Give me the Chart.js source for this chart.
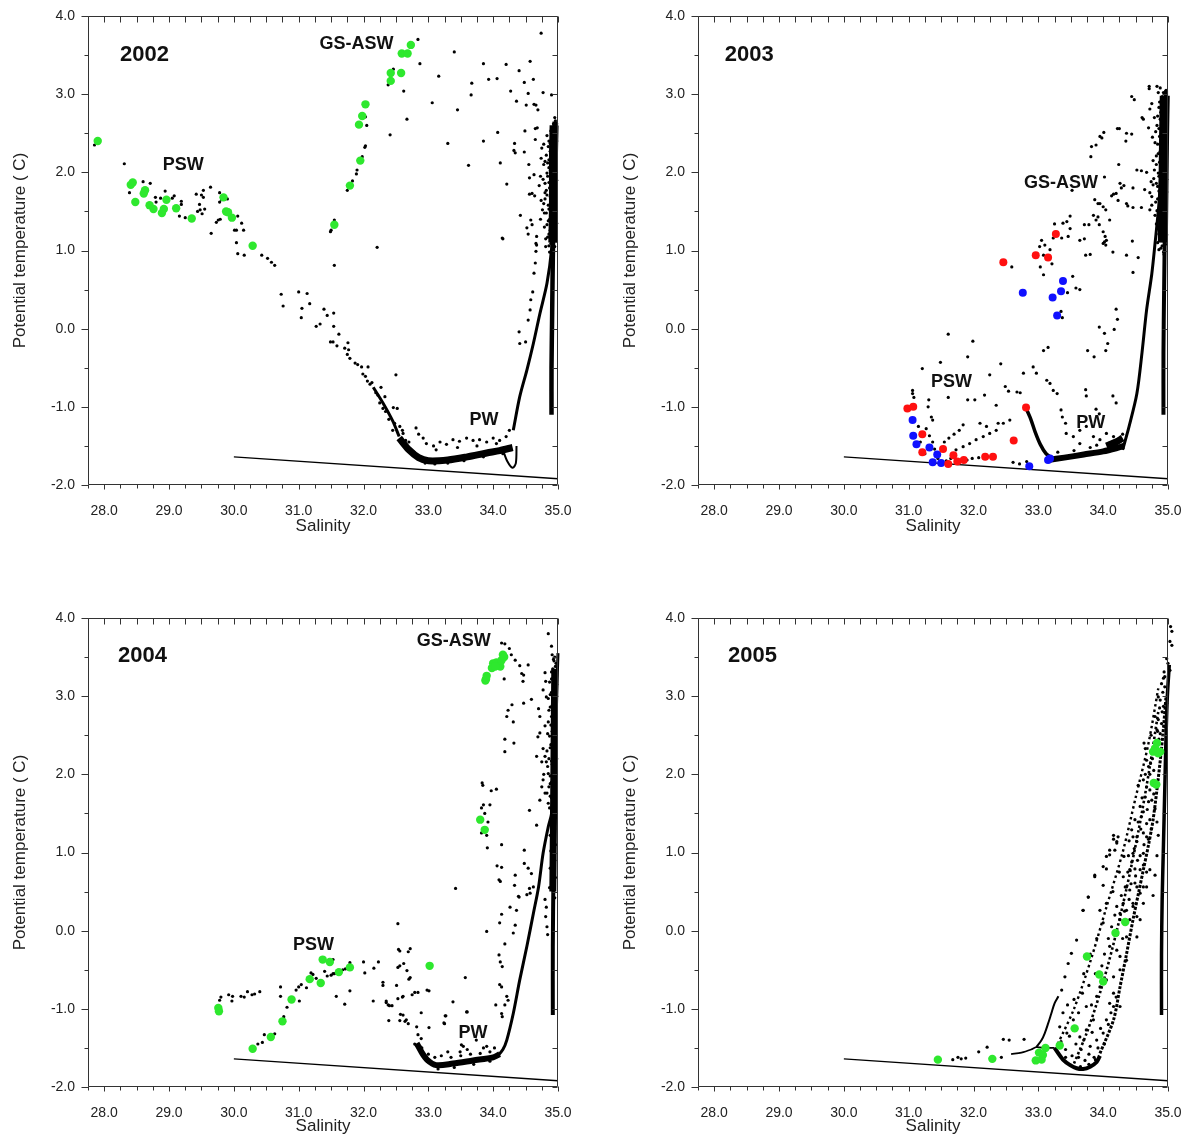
<!DOCTYPE html>
<html lang="en">
<head>
<meta charset="UTF-8">
<title>Potential temperature vs salinity, 2002-2005</title>
<script src="https://cdn.jsdelivr.net/npm/chart.js@4.4.1/dist/chart.umd.min.js"></script>
<style>
  body { margin: 0; background: #fff; }
  #wrap { position: relative; width: 1189px; height: 1140px; }
  #wrap canvas { position: absolute; }
</style>
</head>
<body>
<div id="wrap">
  <canvas id="c2002" width="594" height="540" style="left:0;top:0"></canvas>
  <canvas id="c2003" width="579" height="540" style="left:610px;top:0"></canvas>
  <canvas id="c2004" width="594" height="538" style="left:0;top:602px"></canvas>
  <canvas id="c2005" width="579" height="538" style="left:610px;top:602px"></canvas>
</div>
<script>
// axes
const salMin = 27.75, salMax = 35.0, salStep = 0.25;
const tempMin = -2.0, tempMax = 4.0, tempStep = 0.5;
// freezing line
const freezeSal = [30.0, 35.0];
const freezeTemp = [-1.64, -1.92];

// ---------- 2002 ----------
const green2002 = [[27.90,2.40],[28.44,1.87],[28.41,1.84],[28.48,1.62],[28.61,1.73],[28.63,1.77],[28.70,1.58],[28.76,1.53],
  [28.89,1.48],[28.92,1.53],[28.96,1.65],[29.11,1.54],[29.35,1.41],[29.84,1.68],[29.88,1.50],[29.91,1.49],[29.97,1.42],
  [30.29,1.06],[31.55,1.33],[31.79,1.83],[31.95,2.15],[31.93,2.61],[31.98,2.72],[32.03,2.87],[32.42,3.17],[32.42,3.27],
  [32.58,3.27],[32.59,3.52],[32.68,3.52],[32.73,3.63]];
const dots2002 = [[27.85,2.35],[28.31,2.11],[28.39,1.74],[28.60,1.88],[28.71,1.86],[28.79,1.68],[28.87,1.67],[28.94,1.76],
  [28.80,1.62],[29.05,1.67],[29.08,1.70],[29.19,1.63],[29.19,1.59],[29.16,1.44],[29.25,1.42],[29.42,1.72],[29.50,1.71],
  [29.53,1.68],[29.53,1.77],[29.64,1.81],[29.47,1.59],[29.48,1.52],[29.44,1.50],[29.51,1.47],[29.55,1.53],[29.78,1.74],
  [29.78,1.62],[29.81,1.65],[29.73,1.36],[29.76,1.39],[29.79,1.40],[29.65,1.22],[29.90,1.66],[30.06,1.44],[30.01,1.26],
  [30.04,1.26],[30.15,1.26],[30.04,1.10],[30.12,1.35],[30.06,0.96],[30.16,0.94],[30.43,0.94],[30.52,0.90],[30.58,0.85],
  [30.63,0.81],[30.73,0.44],[30.76,0.29],[31.00,0.47],[31.05,0.26],[31.04,0.14],[31.13,0.45],[31.17,0.32],[31.27,0.03],
  [31.33,0.06],[31.39,0.25],[31.44,0.17],[31.54,0.20],[31.54,0.03],[31.62,-0.07],[31.49,-0.17],[31.53,-0.17],[31.59,-0.22],
  [31.71,-0.25],[31.77,-0.27],[31.76,-0.18],[31.75,-0.33],[31.79,-0.38],[31.87,-0.44],[31.91,-0.46],[31.97,-0.49],
  [32.07,-0.49],[31.99,-0.58],[32.03,-0.61],[32.06,-0.67],[32.10,-0.71],[32.13,-0.69],[32.19,-0.82],[32.22,-0.85],
  [32.27,-0.75],[32.33,-0.87],[32.25,-0.95],[32.30,-1.02],[32.34,-1.06],[32.46,-1.01],[32.52,-1.02],[32.50,-0.59],
  [32.81,-1.27],[32.39,-1.16],[32.48,-1.21],[32.56,-1.25],[32.61,-1.34],[31.55,0.81],[31.49,1.24],[32.21,1.04],[34.14,1.16],
  [34.40,-0.04],[34.41,-0.19],[34.50,-0.17],
  [32.84,3.70],[33.40,3.54],[32.87,3.39],[32.62,3.04],[32.67,2.68],[33.16,3.23],[33.06,2.89],[33.45,2.80],[33.67,3.14],
  [33.66,2.99],[33.85,3.39],[33.93,3.19],[34.06,3.20],[34.20,3.38],[34.27,3.04],[34.40,3.30],[34.57,3.42],[34.48,3.15],
  [34.62,3.19],[34.36,2.91],[34.54,3.01],[34.51,2.86],[34.63,2.87],[34.66,2.86],[34.69,2.80],[34.77,3.02],[34.90,2.99],
  [34.74,3.78],[34.07,2.51],[33.85,2.40],[33.30,2.37],[33.62,2.09],[34.11,2.12],[34.21,1.85],[34.33,2.37],[34.32,2.28],
  [34.34,2.25],[34.48,2.26],[34.49,2.53],[34.55,2.10],[34.65,2.56],[34.68,2.57],[34.65,2.42],[34.56,1.93],[34.63,1.97],
  [34.56,1.72],[34.60,1.73],[34.64,1.70],[34.42,1.45],[34.52,1.29],[34.58,1.39],[34.60,1.33],[34.67,1.18],[34.66,1.09],
  [34.15,1.15],[31.55,1.39],[31.50,1.26],[31.90,2.03],[31.89,1.98],[31.83,1.89],[31.75,1.77],[31.98,2.20],[32.02,2.32],
  [32.03,2.34],[32.05,2.60],[32.03,2.71],[32.41,2.48],[32.38,3.12],[32.46,3.32],
  [34.54,1.21],[34.67,1.07],[34.66,0.99],[34.65,0.84],[34.63,0.71],[34.61,0.47],[34.58,0.37],[34.57,0.24],[34.54,0.11],
  [32.97,-1.47],[33.18,-1.45],[33.38,-1.42],[33.59,-1.40],[33.79,-1.42],[34.00,-1.40],[33.08,-1.50],[33.28,-1.48],
  [33.48,-1.44],[33.69,-1.43],[33.90,-1.45],[34.10,-1.43],[34.20,-1.38],[34.25,-1.30],[33.12,-1.55],[33.45,-1.52],
  [33.75,-1.50],[34.05,-1.47],[32.85,-1.35],[32.92,-1.40],[32.70,-1.45],[32.78,-1.58],[32.95,-1.72],[33.10,-1.73],
  [33.30,-1.72],[33.55,-1.69],[33.85,-1.64],[34.15,-1.60],[32.60,-1.30],[32.65,-1.43],[32.45,-1.30],
  [34.95,2.70],[34.93,2.62],[34.97,2.55],[34.90,2.50],[34.96,2.45],[34.86,2.40],[34.93,2.36],[34.97,2.30],[34.88,2.27],
  [34.82,2.22],[34.95,2.18],[34.91,2.14],[34.78,2.10],[34.86,2.06],[34.97,2.03],[34.92,1.98],[34.84,1.95],[34.89,1.90],
  [34.80,1.86],[34.95,1.84],[34.87,1.80],[34.91,1.75],[34.83,1.71],[34.96,1.68],[34.89,1.64],[34.78,1.60],[34.93,1.57],
  [34.86,1.53],[34.82,1.48],[34.97,1.46],[34.90,1.42],[34.85,1.38],[34.94,1.34],[34.79,1.30],[34.88,1.26],[34.92,1.21],
  [34.84,1.17],[34.96,1.13],[34.89,1.09],[34.81,1.05],[34.93,1.02],[34.87,0.98],[34.75,2.31],[34.73,1.95],[34.76,1.52],
  [34.94,2.58],[34.98,2.62],[34.91,2.44],[34.84,2.12],[34.80,1.74],
  [34.96,2.66],[34.92,2.58],[34.89,2.53],[34.95,2.49],[34.92,2.41],[34.88,2.37],[34.85,2.33],[34.95,2.25],[34.90,2.21],
  [34.86,2.16],[34.80,2.14],[34.93,2.09],[34.88,2.02],[34.83,1.99],[34.96,1.95],[34.90,1.93],[34.77,1.91],[34.86,1.87],
  [34.93,1.79],[34.82,1.77],[34.97,1.72],[34.88,1.69],[34.80,1.66],[34.94,1.62],[34.85,1.58],[34.91,1.51],[34.79,1.48],
  [34.95,1.44],[34.87,1.40],[34.92,1.36],[34.83,1.33],[34.89,1.30],[34.95,1.24],[34.86,1.21],[34.81,1.15],[34.91,1.12],
  [34.86,1.06],[34.95,1.05],[34.90,0.99],[34.83,2.47],[34.78,2.36],[34.74,2.18],[34.71,1.83],[34.74,1.64],[34.73,1.40],
  [34.98,2.40],[34.98,1.90],[34.98,1.35]];
const bands2002 = [
  [[34.90,-1.10],[34.90,-0.50],[34.91,0.20],[34.92,0.90],[34.93,1.50],[34.94,2.20],[34.95,2.65]],
  [[34.31,-1.30],[34.41,-0.87],[34.52,-0.53],[34.62,-0.19],[34.72,0.19],[34.83,0.58],[34.90,1.01],[34.94,1.60],[34.96,2.20]],
  [[32.55,-1.40],[32.70,-1.55],[32.85,-1.65],[33.00,-1.69],[33.30,-1.68],[33.60,-1.64],[33.90,-1.59],[34.10,-1.56],[34.30,-1.52]],
  [[32.15,-0.75],[32.30,-0.95],[32.45,-1.18],[32.55,-1.38]],
  [[34.15,-1.55],[34.22,-1.70],[34.30,-1.78],[34.35,-1.72],[34.36,-1.50]],
  [[34.92,1.10],[34.93,1.60],[34.93,2.20],[34.94,2.60]]
];
const bandWidths2002 = [4.5, 3, 7, 3, 2, 9];

// ---------- 2003 ----------
const red2003 = [[33.27,1.21],[32.46,0.85],[32.96,0.94],[33.15,0.91],[30.98,-1.02],[31.07,-1.00],[31.21,-1.35],[31.21,-1.58],
  [31.53,-1.54],[31.61,-1.73],[31.69,-1.62],[31.75,-1.70],[31.85,-1.68],[32.18,-1.64],[32.30,-1.64],[32.62,-1.43],[32.81,-1.01]];
const blue2003 = [[33.38,0.61],[33.35,0.48],[33.22,0.40],[32.76,0.46],[33.29,0.17],[31.06,-1.17],[31.07,-1.37],[31.12,-1.48],
  [31.32,-1.52],[31.44,-1.61],[31.37,-1.71],[31.50,-1.72],[32.86,-1.76],[33.15,-1.68],[33.18,-1.66]];
const dots2003 = [[31.61,-0.07],[31.99,-0.16],[31.49,-0.43],[31.21,-0.51],[31.91,-0.36],[32.42,-0.45],[31.06,-0.83],[31.08,-0.88],
  [31.31,-0.91],[31.61,-0.88],[31.91,-0.91],[32.02,-0.91],[32.17,-0.85],[32.25,-0.59],[32.49,-0.74],[32.54,-0.80],[32.67,-0.81],
  [32.72,-0.82],[32.35,-0.98],[32.38,-1.21],[32.10,-1.21],[32.20,-1.25],[31.84,-1.23],[31.35,-1.13],[31.37,-1.17],[31.30,-1.00],
  [31.06,-0.79],[32.77,-0.57],[32.92,-0.49],[32.97,-0.57],[33.08,-0.28],[33.15,-0.24],[33.13,-0.66],[33.18,-0.70],[33.23,-0.79],
  [33.29,-0.83],[33.35,-1.04],[33.37,-1.13],[33.42,-1.21],[33.73,-0.78],[33.74,-0.86],[33.89,-1.03],[33.94,-1.09],[34.15,-0.86],
  [34.20,-0.95],[33.76,-0.28],[33.86,-0.36],[33.94,0.02],[34.02,-0.06],[34.07,-0.19],[34.04,-0.28],[34.20,0.25],[34.22,0.12],
  [34.17,-0.01],[33.94,1.33],[34.00,1.24],[34.02,1.11],[34.04,1.07],[33.73,0.94],[33.80,0.95],[34.15,0.98],[34.46,0.72],
  [34.54,0.91],[33.23,1.16],[33.36,1.16],[33.46,1.18],[33.49,1.28],[33.08,0.94],[33.13,0.89],[33.21,0.83],[33.03,0.79],
  [33.08,0.69],[32.59,0.79],[33.35,0.22],[33.37,0.14],[33.45,0.46],[33.58,0.52],[33.64,0.50],[33.53,0.67],[34.00,1.56],
  [34.04,1.52],[33.89,1.39],[34.20,1.73],[34.23,1.64],[34.64,1.78],[34.72,1.74],[34.36,1.60],[34.38,1.57],[34.46,1.55],
  [34.59,1.55],
  [31.27,-1.28],[31.32,-1.37],[31.37,-1.45],[31.40,-1.54],[31.73,-1.55],[31.84,-1.51],[31.94,-1.47],[32.04,-1.42],[32.15,-1.38],
  [32.25,-1.34],[32.35,-1.30],[32.46,-1.21],[32.56,-1.17],[32.61,-1.71],[32.71,-1.73],[32.82,-1.70],
  [31.45,-1.66],[31.58,-1.69],[31.65,-1.66],[31.80,-1.70],[31.90,-1.68],[31.98,-1.66],[32.08,-1.65],[31.15,-1.25],[31.18,-1.45],
  [31.25,-1.60],[31.55,-1.45],[31.62,-1.40],[31.70,-1.35],[31.78,-1.30],
  [33.43,-1.34],[33.54,-1.38],[33.64,-1.30],[33.74,-1.25],[33.85,-1.38],[33.95,-1.42],[34.05,-1.34],[34.16,-1.38],[34.26,-1.42],
  [33.64,-1.47],[33.90,-1.49],[33.30,-1.58],[33.55,-1.56],[33.80,-1.52],[34.10,-1.46],[34.30,-1.35],
  [34.71,3.10],[34.71,3.07],[34.83,3.10],[34.88,3.08],[34.44,2.97],[34.48,2.93],[34.60,2.70],[34.62,2.68],[34.72,2.81],
  [34.70,2.57],[34.25,2.56],[34.22,2.56],[34.36,2.50],[34.35,2.40],[34.44,2.49],[34.01,2.51],[33.95,2.46],[33.98,2.44],
  [33.89,2.35],[33.82,2.33],[33.81,2.20],[34.24,2.10],[34.52,2.03],[34.59,2.02],[34.67,2.00],[34.74,1.88],[34.77,1.84],
  [34.75,1.69],[34.72,1.52],[34.26,1.86],[34.32,1.83],[34.28,1.80],[34.46,1.80],[34.02,1.94],[34.16,1.72],[34.13,1.70],
  [33.87,1.65],[33.92,1.60],[33.95,1.60],[33.85,1.45],[33.92,1.43],[34.10,1.39],[33.49,1.44],[33.38,1.35],[33.44,1.37],
  [33.25,1.34],[33.71,1.33],[33.78,1.33],[34.03,1.18],[34.05,1.13],[34.00,1.09],[33.64,1.13],[33.71,1.15],[34.45,1.12],
  [34.36,0.94],[33.05,1.13],[33.10,1.07],[33.02,1.05],[33.18,1.01],[33.52,1.77],
  [34.97,3.05],[34.93,3.02],[34.98,2.96],[34.90,2.92],[34.95,2.86],[34.86,2.83],[34.97,2.78],[34.92,2.74],[34.88,2.68],
  [34.96,2.63],[34.83,2.60],[34.91,2.55],[34.98,2.50],[34.87,2.46],[34.94,2.42],[34.80,2.38],[34.90,2.33],[34.96,2.28],
  [34.85,2.24],[34.92,2.19],[34.97,2.14],[34.82,2.10],[34.89,2.05],[34.94,2.00],[34.86,1.95],[34.98,1.91],[34.91,1.86],
  [34.84,1.82],[34.95,1.77],[34.88,1.72],[34.93,1.67],[34.81,1.62],[34.97,1.58],[34.90,1.53],[34.86,1.48],[34.94,1.43],
  [34.89,1.38],[34.96,1.33],[34.84,1.28],[34.92,1.23],[34.88,1.18],[34.95,1.12],[34.91,1.06],[34.86,1.01],[34.94,0.95],
  [34.79,2.70],[34.77,2.15],[34.80,1.45],[34.98,2.72],[34.93,2.36],
  [34.95,3.00],[34.91,2.97],[34.87,2.90],[34.93,2.81],[34.89,2.77],[34.84,2.72],[34.95,2.67],[34.90,2.60],[34.86,2.56],
  [34.81,2.52],[34.96,2.47],[34.89,2.41],[34.84,2.36],[34.93,2.30],[34.88,2.27],[34.82,2.21],[34.95,2.17],[34.87,2.13],
  [34.92,2.08],[34.79,2.03],[34.85,1.99],[34.96,1.96],[34.90,1.90],[34.82,1.86],[34.92,1.80],[34.86,1.76],[34.95,1.71],
  [34.84,1.66],[34.90,1.61],[34.96,1.52],[34.83,1.51],[34.92,1.47],[34.87,1.41],[34.97,1.37],[34.82,1.34],[34.90,1.30],
  [34.94,1.26],[34.86,1.21],[34.91,1.15],[34.96,1.08],[34.84,1.10],[34.89,1.03],[34.93,0.98],[34.76,2.45],[34.75,2.88],
  [34.78,1.92],[34.75,1.58],[34.85,3.02],[34.98,2.85],[34.98,2.30],[34.98,1.75],[34.98,1.20]];
const bands2003 = [
  [[34.93,-1.10],[34.93,-0.30],[34.94,0.50],[34.95,1.20],[34.96,1.90],[34.97,2.50],[34.97,3.05]],
  [[34.30,-1.55],[34.40,-1.25],[34.52,-0.83],[34.60,-0.30],[34.67,0.24],[34.75,0.70],[34.80,1.09],[34.86,1.60],[34.90,2.16]],
  [[32.80,-1.00],[32.88,-1.15],[32.95,-1.32],[33.03,-1.48],[33.12,-1.60],[33.22,-1.66]],
  [[33.15,-1.68],[33.40,-1.65],[33.70,-1.61],[34.00,-1.57],[34.20,-1.53],[34.32,-1.50]],
  [[34.05,-1.50],[34.20,-1.45],[34.30,-1.40]],
  [[34.92,1.10],[34.93,1.80],[34.94,2.50],[34.95,2.98]]
];
const bandWidths2003 = [4, 3, 3.5, 6, 7, 10];

// ---------- 2004 ----------
const green2004 = [[29.76,-0.99],[29.77,-1.03],[30.29,-1.51],[30.57,-1.36],[30.75,-1.16],[30.89,-0.88],[31.17,-0.62],[31.34,-0.67],
  [31.37,-0.37],[31.48,-0.40],[31.62,-0.53],[31.79,-0.47],[33.02,-0.45],[34.15,3.53],[34.00,3.42],[34.05,3.43],[34.11,3.38],
  [33.98,3.36],[33.90,3.26],[33.88,3.20],[34.13,3.46],[34.17,3.50],[34.03,3.38],[33.89,3.22],[33.80,1.42],[33.87,1.29]];
const dots2004 = [[29.78,-0.89],[29.80,-0.85],[29.92,-0.82],[29.98,-0.84],[29.97,-0.90],[30.11,-0.84],[30.16,-0.85],[30.21,-0.78],
  [30.28,-0.82],[30.32,-0.81],[30.40,-0.78],[30.37,-1.45],[30.44,-1.43],[30.47,-1.33],[30.63,-1.32],[30.72,-0.72],[30.72,-0.84],
  [30.82,-0.98],[30.77,-1.10],[30.96,-0.76],[31.00,-0.72],[31.04,-0.69],[31.01,-0.90],[31.12,-0.73],[31.19,-0.54],[31.22,-0.56],
  [31.27,-0.61],[31.40,-0.52],[31.44,-0.58],[31.50,-0.57],[31.53,-0.55],[31.55,-0.55],[31.53,-0.37],[31.68,-0.50],[31.72,-0.49],
  [31.79,-0.41],[31.58,-0.84],[31.71,-0.94],[31.79,-0.77],[32.00,-0.40],[32.02,-0.54],[32.16,-0.48],[32.23,-0.40],[32.15,-0.90],
  [32.30,-0.70],[32.35,-0.90],[32.38,-0.95],[32.44,-0.96],[32.39,-1.15],[32.51,-0.70],[32.53,0.09],[32.54,-0.24],[32.56,-0.26],
  [32.62,-0.42],[32.53,-0.47],[32.56,-0.45],[32.67,-0.51],[32.70,-0.62],[32.72,-0.60],[32.53,-0.87],[32.61,-0.84],[32.57,-1.07],
  [32.61,-1.08],[32.56,-1.15],[32.66,-1.14],[32.69,-1.19],[32.75,-0.82],[32.79,-0.79],[32.84,-0.79],[32.89,-1.05],[32.98,-0.76],
  [33.01,-0.77],[33.01,-1.24],[32.82,-1.23],[32.84,-1.33],[32.89,-1.38],[32.79,-1.45],[32.87,-1.48],[33.25,-1.19],[33.26,-1.09],
  [33.42,0.54],[33.57,-0.60],[33.59,-1.04],[33.38,-0.91],[33.51,-1.46],[33.90,-0.01],[34.04,-0.95],[32.69,-0.27],[32.72,-0.23],
  [32.30,-0.66],[32.60,-0.85],[32.35,-0.92],[32.40,-0.96],[32.64,-1.16],[33.60,-1.04],[33.27,-1.09],[33.24,-1.18],[33.49,-1.55],
  [33.74,-1.40],[33.90,-1.48],[33.54,-1.48],
  [34.85,3.80],[34.90,3.64],[34.91,3.53],[34.13,3.68],[34.18,3.67],[34.25,3.61],[34.28,3.53],[34.34,3.46],[34.41,3.39],
  [34.44,3.29],[34.47,3.27],[34.46,3.19],[34.54,3.40],[34.17,3.22],[34.77,3.08],[34.81,3.19],[34.82,2.99],[34.59,2.96],
  [34.47,2.91],[34.29,2.89],[34.23,2.82],[34.21,2.74],[34.31,2.67],[34.70,2.84],[34.72,2.74],[34.18,2.45],[34.32,2.40],
  [34.18,2.29],[34.69,2.48],[34.72,2.53],[34.77,2.33],[34.80,2.23],[34.67,2.23],[34.75,2.16],[34.82,2.16],[34.77,1.93],
  [34.75,1.84],[34.80,1.76],[34.72,1.67],[33.83,1.89],[33.84,1.86],[33.97,1.79],[34.05,1.81],[33.85,1.61],[33.82,1.57],
  [33.95,1.61],[33.87,1.50],[33.92,1.39],[33.82,1.25],[33.90,1.22],[33.91,1.06],[34.13,1.10],[34.48,1.03],[34.56,1.54],
  [34.67,1.35],[34.06,0.83],[34.13,0.81],[34.09,0.65],[34.11,0.63],[34.34,0.71],[34.33,0.58],[34.26,0.30],[34.36,0.26],
  [34.13,0.21],[34.48,0.86],[34.54,0.80],[34.59,0.73],[34.62,0.56],[34.39,0.44],[34.40,0.43],[34.52,0.46],[34.56,0.54],
  [34.57,0.48],[34.10,0.10],[34.34,0.07],[34.31,-0.03],[34.18,-0.17],[34.09,-0.31],[34.11,-0.40],[34.14,-0.46],[34.10,-0.69],
  [34.13,-0.72],[34.21,-0.84],[34.23,-0.89],[34.18,-0.95],[34.13,-1.06],[34.14,-1.10],
  [34.80,0.40],[34.82,0.30],[34.81,0.18],[34.83,0.05],[34.84,-0.05],
  [32.90,-1.50],[33.00,-1.58],[33.10,-1.62],[33.20,-1.60],[33.35,-1.62],[33.50,-1.60],[33.65,-1.58],[33.80,-1.57],[33.95,-1.55],
  [33.30,-1.55],[33.60,-1.52],[33.85,-1.50],[34.02,-1.50],[33.15,-1.77],[33.40,-1.75],[33.70,-1.71],[33.95,-1.67],
  [34.95,3.50],[34.97,3.42],[34.92,3.35],[34.96,3.28],[34.90,3.22],[34.98,3.15],[34.93,3.08],[34.88,3.02],[34.96,2.95],
  [34.91,2.88],[34.86,2.82],[34.97,2.76],[34.93,2.70],[34.89,2.63],[34.95,2.57],[34.84,2.52],[34.92,2.45],[34.97,2.40],
  [34.88,2.34],[34.94,2.27],[34.86,2.20],[34.91,2.13],[34.96,2.07],[34.85,2.01],[34.92,1.95],[34.88,1.88],[34.95,1.82],
  [34.83,1.76],[34.90,1.70],[34.96,1.63],[34.87,1.57],[34.93,1.50],[34.98,3.00],[34.98,2.20],[34.90,1.90],[34.94,3.45],
  [34.93,3.47],[34.96,3.38],[34.90,3.31],[34.94,3.25],[34.87,3.18],[34.95,3.12],[34.90,3.05],[34.85,2.97],[34.93,2.92],
  [34.88,2.86],[34.95,2.80],[34.90,2.74],[34.85,2.67],[34.96,2.61],[34.91,2.55],[34.87,2.49],[34.94,2.43],[34.89,2.38],
  [34.83,2.30],[34.97,2.25],[34.90,2.17],[34.84,2.10],[34.93,2.04],[34.88,1.98],[34.96,1.91],[34.86,1.84],[34.92,1.78],
  [34.88,1.72],[34.95,1.67],[34.85,1.63],[34.91,1.56],[34.97,1.45],[34.90,1.38],[34.95,1.30],[34.88,1.22],[34.96,1.10],
  [34.89,1.02],[34.95,0.90],[34.88,0.80],[34.96,0.68],[34.87,0.55],[34.95,0.42],[34.80,2.62],[34.80,3.30],[34.78,2.00]];
const bands2004 = [
  [[34.92,-1.08],[34.92,-0.20],[34.93,0.70],[34.94,1.50],[34.95,2.30],[34.96,3.00],[34.97,3.30]],
  [[34.05,-1.62],[34.15,-1.52],[34.21,-1.40],[34.31,-1.06],[34.41,-0.63],[34.52,-0.20],[34.62,0.22],[34.70,0.56],
   [34.77,0.99],[34.85,1.33],[34.90,1.50],[34.94,2.10],[34.97,2.70],[34.99,3.30],[35.00,3.55]],
  [[32.82,-1.44],[32.90,-1.56],[32.98,-1.65],[33.12,-1.72],[33.38,-1.70],[33.69,-1.66],[34.00,-1.62],[34.10,-1.58]],
  [[34.92,0.50],[34.93,1.40],[34.94,2.40],[34.95,3.35]]
];
const bandWidths2004 = [4, 3, 6, 7];

// ---------- 2005 ----------
const green2005 = [[31.45,-1.65],[32.29,-1.64],[32.96,-1.66],[33.05,-1.65],[33.01,-1.56],[33.11,-1.50],[33.07,-1.59],[33.33,-1.47],
  [33.56,-1.25],[33.75,-0.33],[33.94,-0.56],[34.00,-0.65],[34.19,-0.03],[34.34,0.11],[34.83,2.40],[34.77,2.29],[34.85,2.27],
  [34.80,2.33],[34.88,2.29],[34.78,1.89],[34.82,1.87]];
const dots2005 = [[31.68,-1.65],[31.76,-1.62],[31.81,-1.64],[31.88,-1.63],[32.08,-1.55],[32.21,-1.49],[32.46,-1.39],[32.55,-1.40],
  [32.78,-1.39],[32.43,-1.62],[33.36,-0.76],[33.41,-0.59],[33.46,-0.42],[33.51,-0.29],[33.59,-0.12],[33.69,0.26],[33.77,0.43],
  [33.87,0.71],[34.00,0.82],[34.05,0.95],[34.10,1.03],[34.16,1.22],[34.23,1.20],[34.21,1.12],[33.95,0.26],[34.10,-0.20],
  [34.21,-0.25],[34.26,-0.33],[33.33,-1.23],[33.44,-1.31],[33.54,-1.14],[33.64,-1.36],[33.74,-1.27],[33.80,-1.48],[33.90,-1.40],
  [34.00,-1.31],[34.05,-1.14],[34.16,-0.97],[33.74,-0.97],[33.90,-0.84],[33.95,-0.72],[34.05,-0.63],[34.16,-0.59],[34.26,-0.50],
  [34.36,-0.38],[34.16,-0.80],[34.10,-0.93],[34.26,-0.97],[33.85,-1.14],[34.36,-0.08],[34.41,0.14],[34.46,0.35],[34.52,0.56],
  [34.57,0.78],[34.62,0.99],[34.67,1.20],[34.26,0.14],[34.31,0.35],[34.36,0.56],[34.41,0.78],[34.46,0.99],[34.52,1.20],
  [34.67,0.56],[34.72,0.78],[34.62,0.35],[34.57,0.14],[34.52,-0.08],
  [35.04,3.89],[35.06,3.83],[35.03,3.70],[35.06,3.65],[34.98,3.48],[35.00,3.42],[35.03,3.33],[34.94,3.31],[34.93,3.23],
  [34.90,3.16],[34.95,3.12],[34.85,2.99],[34.88,2.95],[34.93,2.87],[34.98,2.91],[34.80,2.74],[34.85,2.70],[34.90,2.65],
  [34.83,2.57],[34.88,2.52],[34.95,2.61],[34.63,2.40],[34.65,2.33],[34.67,2.18],[34.70,2.10],[34.73,2.14],[34.54,1.86],
  [34.62,1.93],[34.67,1.84],[34.72,1.80],[34.65,1.71],[34.70,1.65],[34.75,1.67],[34.57,1.59],[34.62,1.52],[34.49,1.42],
  [34.54,1.39],[34.59,1.46],[34.67,1.37],[34.72,1.42],[34.44,1.29],[34.46,1.20],[34.52,1.14],[34.62,1.25],[34.70,1.17],
  [34.16,1.17],[34.21,1.14],[34.18,1.03],[34.10,0.97],[34.39,0.96],[34.44,0.88],[34.49,0.79],[34.57,0.96],[34.62,0.84],
  [34.67,0.75],[34.05,0.79],[33.87,0.69],[34.00,0.58],[34.31,0.69],[34.34,0.56],[34.41,0.52],[34.49,0.61],[34.57,0.48],
  [34.62,0.56],[33.77,0.43],[33.69,0.26],[34.21,0.31],[34.26,0.22],[34.36,0.26],[34.46,0.31],[34.52,0.18],[34.80,1.56],
  [34.83,1.39],[34.85,1.22],[34.83,0.96],[34.80,0.71],[34.77,0.45],[34.78,2.05],[34.86,2.45],[34.74,2.50],[34.91,2.80],
  [33.35,-1.42],[33.42,-1.52],[33.48,-1.35],[33.52,-1.60],[33.58,-1.45],[33.62,-1.62],[33.66,-1.52],[33.70,-1.40],[33.72,-1.66],
  [33.78,-1.58],[33.83,-1.30],[33.86,-1.62],[33.92,-1.50],[33.96,-1.25],[34.02,-1.45],[34.08,-1.20],[34.12,-1.05],[34.20,-0.85],
  [33.38,-1.05],[33.45,-0.95],[33.55,-0.88],[33.62,-1.05],[33.68,-0.80],[33.78,-0.70],[33.82,-0.95],[33.88,-0.55],[33.98,-0.45],
  [34.02,-0.30],[34.08,-0.10],[34.13,0.05],[34.18,0.20],[34.22,-0.05],[34.28,0.45],[34.33,0.25],[34.38,0.75],[34.43,0.60],
  [34.48,1.05],[34.53,0.90],[34.58,1.30],[34.63,1.10],[34.68,1.55],[34.74,1.30],[34.78,1.75],[34.72,2.00],[34.76,2.20],
  [34.81,2.30],[34.84,2.55],[34.87,2.85],[34.92,3.05],[34.95,3.25],[33.50,-1.72],[33.65,-1.74],[33.78,-1.71],[33.88,-1.65],
  [33.42,-1.62],[34.30,-0.10],[34.40,0.40],[34.50,0.70],[34.60,1.70],[34.65,2.00],[33.70,-0.55],[33.80,-0.30],[33.90,-0.10],
  [34.00,0.10],[34.05,0.35],[34.15,0.50],[34.25,0.75],[34.32,0.95],[34.40,1.15]];
const bands2005 = [
  [[34.90,-1.08],[34.90,-0.30],[34.91,0.40],[34.93,1.10],[34.95,1.80],[34.97,2.50],[34.99,3.00],[35.02,3.40]],
  [[33.95,-1.57],[34.16,-1.14],[34.26,-0.72],[34.36,-0.30],[34.46,0.14],[34.55,0.50],[34.62,0.78],[34.70,1.10],[34.77,1.42],
   [34.85,1.95],[34.92,2.50],[34.97,3.00]],
  [[33.25,-1.50],[33.38,-1.65],[33.49,-1.72],[33.59,-1.76],[33.69,-1.77],[33.80,-1.74],[33.90,-1.68],[33.95,-1.60]],
  [[32.97,-1.49],[33.05,-1.40],[33.10,-1.31],[33.15,-1.19],[33.20,-1.06],[33.25,-0.93],[33.31,-0.84]],
  [[32.58,-1.58],[32.74,-1.56],[32.89,-1.52],[32.97,-1.49],[33.10,-1.50],[33.25,-1.50]],
  [[33.55,-1.70],[33.75,-1.30],[33.95,-0.80],[34.15,-0.20],[34.35,0.50],[34.55,1.30],[34.72,2.10],[34.85,2.80]],
  [[33.30,-1.45],[33.55,-1.00],[33.80,-0.40],[34.05,0.30],[34.30,1.00],[34.50,1.70],[34.70,2.40],[34.85,3.10]]
];
const bandWidths2005 = [3.5, 3, 4, 2, 1.8, 2.6, 2.4];
const bandDash2005 = [[], [3, 1.5], [], [], [], [2.5, 2.5], [2.5, 3]];

const FONT = '"Liberation Sans", Arial, Helvetica, sans-serif';
const toXY = arr => arr.map(p => ({x: p[0], y: p[1]}));
const isWhole = v => Math.abs(v - Math.round(v)) < 1e-6;

// frame with ticks on all four sides, plus text labels under the points
const framePlugin = {
  id: 'frame',
  beforeDatasetsDraw(chart, args, opts) {
    const {ctx, scales: {x, y}} = chart;
    ctx.save();
    ctx.fillStyle = '#111';
    ctx.textAlign = 'center';
    ctx.textBaseline = 'middle';
    (opts.labels || []).forEach(l => {
      ctx.font = 'bold ' + l.size + 'px ' + FONT;
      ctx.fillText(l.text, x.getPixelForValue(l.s), y.getPixelForValue(l.t));
    });
    ctx.restore();
  },
  afterDraw(chart) {
    const {ctx, chartArea: a, scales: {x, y}} = chart;
    const L = Math.round(a.left) + 0.5, R = Math.round(a.right) - 0.5;
    const T = Math.round(a.top) + 0.5, B = Math.round(a.bottom) - 0.5;
    ctx.save();
    ctx.strokeStyle = '#333';
    ctx.lineWidth = 1;
    ctx.beginPath();
    ctx.rect(L, T, R - L, B - T);
    x.ticks.forEach(t => {
      const px = Math.round(x.getPixelForValue(t.value)) + 0.5;
      ctx.moveTo(px, B); ctx.lineTo(px, B + (isWhole(t.value) ? 5 : 4));
      ctx.moveTo(px, T); ctx.lineTo(px, T + 6);
    });
    y.ticks.forEach(t => {
      const py = Math.round(y.getPixelForValue(t.value)) + 0.5;
      ctx.moveTo(L, py); ctx.lineTo(L - (isWhole(t.value) ? 7 : 4), py);
      ctx.moveTo(R, py); ctx.lineTo(R - 5, py);
    });
    ctx.stroke();
    ctx.restore();
  }
};

function makePanel(id, p) {
  const datasets = [];
  p.marks.forEach(m => datasets.push({
    data: toXY(m.data), backgroundColor: m.color, borderWidth: 0, pointRadius: m.r, order: 0
  }));
  datasets.push({
    data: toXY(p.dots), backgroundColor: '#000', borderWidth: 0, pointRadius: 1.6, order: 1,
    clip: {left: 4, top: 4, right: 10, bottom: 4}
  });
  p.bands.forEach((b, i) => datasets.push({
    data: toXY(b), showLine: true, borderColor: '#000', borderWidth: p.widths[i], pointRadius: 0,
    borderDash: p.dashes ? p.dashes[i] : [],
    tension: 0.3, fill: false, order: 2, clip: {left: 0, top: 0, right: 6, bottom: 0}
  }));
  datasets.push({
    data: freezeSal.map((s, i) => ({x: s, y: freezeTemp[i]})), showLine: true,
    borderColor: '#000', borderWidth: 1.3, pointRadius: 0, order: 3
  });

  new Chart(document.getElementById(id), {
    type: 'scatter',
    data: {datasets},
    plugins: [framePlugin],
    options: {
      responsive: false,
      animation: false,
      events: [],
      layout: {padding: {left: 0, top: p.padT, right: p.padR, bottom: 0}},
      plugins: {
        legend: {display: false},
        tooltip: {enabled: false},
        frame: {labels: p.labels}
      },
      scales: {
        x: {
          type: 'linear', min: salMin, max: salMax,
          afterFit: s => {
            s.height = p.xH;
            s.paddingLeft = 0; s.paddingRight = 0; s.paddingTop = 0; s.paddingBottom = 0;
          },
          grid: {display: false, drawTicks: false},
          border: {display: false},
          ticks: {
            stepSize: salStep, autoSkip: false, maxRotation: 0, padding: 18,
            color: '#222', font: {family: FONT, size: 14},
            callback: v => isWhole(v) ? Math.round(v).toFixed(1) : ''
          },
          title: {display: true, text: 'Salinity', color: '#222',
                  font: {family: FONT, size: 17}, padding: {top: 0, bottom: 3}}
        },
        y: {
          type: 'linear', min: tempMin, max: tempMax,
          afterFit: s => {
            s.width = 88;
            s.paddingLeft = 0; s.paddingRight = 0; s.paddingTop = 0; s.paddingBottom = 0;
          },
          grid: {display: false, drawTicks: false},
          border: {display: false},
          ticks: {
            stepSize: tempStep, autoSkip: false, padding: 13,
            color: '#222', font: {family: FONT, size: 14},
            callback: v => isWhole(v) ? Math.round(v).toFixed(1) : ''
          },
          title: {display: true, text: 'Potential temperature ( C)', color: '#222',
                  font: {family: FONT, size: 17}, padding: {top: 10, bottom: 0}}
        }
      }
    }
  });
}

const GREEN = '#2ee82e';

makePanel('c2002', {
  padT: 16, padR: 36, xH: 55,
  dots: dots2002, bands: bands2002, widths: bandWidths2002,
  marks: [{data: green2002, color: GREEN, r: 4.2}],
  labels: [
    {text: '2002', s: 28.62, t: 3.50, size: 22},
    {text: 'PSW', s: 29.22, t: 2.09, size: 18},
    {text: 'GS-ASW', s: 31.89, t: 3.64, size: 18},
    {text: 'PW', s: 33.86, t: -1.17, size: 18}
  ]
});
makePanel('c2003', {
  padT: 16, padR: 21, xH: 55,
  dots: dots2003, bands: bands2003, widths: bandWidths2003,
  marks: [{data: red2003, color: '#ff1010', r: 4}, {data: blue2003, color: '#1010ff', r: 4}],
  labels: [
    {text: '2003', s: 28.54, t: 3.50, size: 22},
    {text: 'GS-ASW', s: 33.35, t: 1.86, size: 18},
    {text: 'PSW', s: 31.66, t: -0.68, size: 18},
    {text: 'PW', s: 33.81, t: -1.21, size: 18}
  ]
});
makePanel('c2004', {
  padT: 16, padR: 36, xH: 53,
  dots: dots2004, bands: bands2004, widths: bandWidths2004,
  marks: [{data: green2004, color: GREEN, r: 4.2}],
  labels: [
    {text: '2004', s: 28.59, t: 3.51, size: 22},
    {text: 'GS-ASW', s: 33.39, t: 3.71, size: 18},
    {text: 'PSW', s: 31.23, t: -0.18, size: 18},
    {text: 'PW', s: 33.69, t: -1.31, size: 18}
  ]
});
makePanel('c2005', {
  padT: 16, padR: 21, xH: 53,
  dots: dots2005, bands: bands2005, widths: bandWidths2005, dashes: bandDash2005,
  marks: [{data: green2005, color: GREEN, r: 4.2}],
  labels: [
    {text: '2005', s: 28.59, t: 3.51, size: 22}
  ]
});
</script>
</body>
</html>
